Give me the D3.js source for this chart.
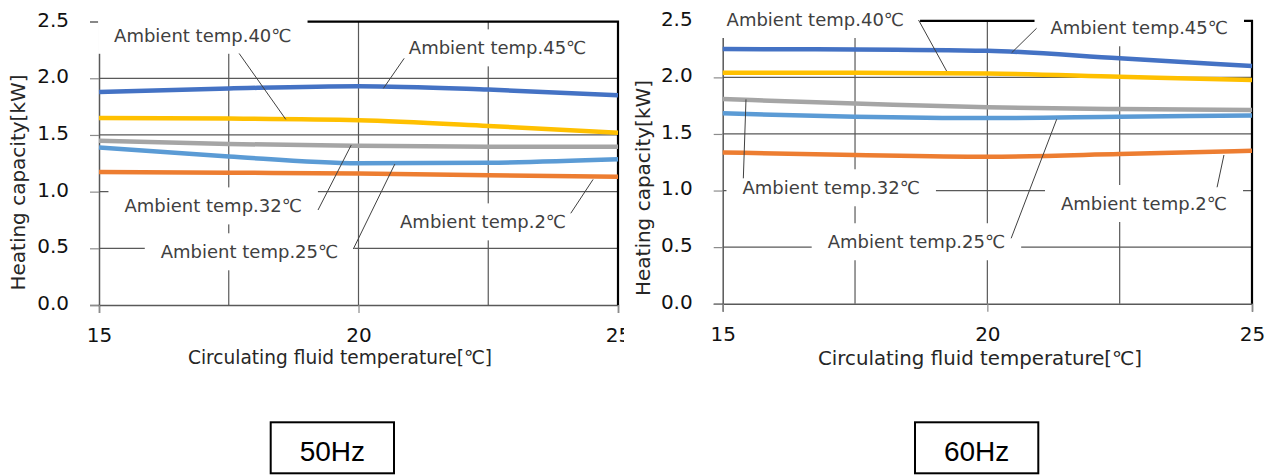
<!DOCTYPE html>
<html><head><meta charset="utf-8">
<script src="https://cdn.jsdelivr.net/npm/d3@7"></script>
<style>html,body{margin:0;padding:0;background:#fff;} svg{display:block}</style>
</head><body><svg id="chart" width="1272" height="475"></svg>
<script>
// ---------- data ----------
const fluidTemps = [15, 17.5, 20, 22.5, 25];
const xTickValues = [15, 20, 25];
const xGridValues = [17.5, 20, 22.5];
const yTickValues = [0, 0.5, 1.0, 1.5, 2.0, 2.5];
const yGridValues = [0.5, 1.0, 1.5, 2.0];
const seriesNames = ["Ambient temp.45℃", "Ambient temp.40℃", "Ambient temp.32℃", "Ambient temp.25℃", "Ambient temp.2℃"];
const seriesColors = ["#4472C4", "#FFC000", "#A5A5A5", "#5B9BD5", "#ED7D31"];

// 50Hz heating capacity [kW]
const hz50_45 = [1.88, 1.91, 1.93, 1.90, 1.85];
const hz50_40 = [1.65, 1.645, 1.63, 1.58, 1.52];
const hz50_32 = [1.45, 1.42, 1.405, 1.397, 1.396];
const hz50_25 = [1.39, 1.31, 1.25, 1.255, 1.285];
const hz50_2  = [1.173, 1.167, 1.161, 1.144, 1.131];
// 60Hz heating capacity [kW]
const hz60_45 = [2.25, 2.247, 2.235, 2.168, 2.10];
const hz60_40 = [2.04, 2.04, 2.035, 2.005, 1.976];
const hz60_32 = [1.808, 1.77, 1.735, 1.72, 1.711];
const hz60_25 = [1.682, 1.652, 1.64, 1.652, 1.664];
const hz60_2  = [1.337, 1.314, 1.299, 1.322, 1.352];

const panelTitles = ["50Hz", "60Hz"];
const xTitle = "Circulating fluid temperature[℃]";
const yTitle = "Heating capacity[kW]";

// label anchors (data coordinates): text centre x, baseline y, leader from (x1,y1) to (x2,y2)
const labels50 = [
  {s: 0, tx: 22.68, ty: 2.211, x1: 20.88, y1: 2.176, x2: 20.48, y2: 1.911},
  {s: 1, tx: 17.00, ty: 2.322, x1: 17.70, y1: 2.219, x2: 18.60, y2: 1.637},
  {s: 2, tx: 17.20, ty: 0.817, x1: 19.22, y1: 0.838, x2: 19.86, y2: 1.411},
  {s: 3, tx: 17.90, ty: 0.412, x1: 19.90, y1: 0.494, x2: 20.70, y2: 1.243},
  {s: 4, tx: 22.40, ty: 0.676, x1: 24.09, y1: 0.809, x2: 24.52, y2: 1.108}
];
const labels60 = [
  {s: 0, tx: 22.87, ty: 2.381, x1: 20.93, y1: 2.434, x2: 20.46, y2: 2.218},
  {s: 1, tx: 16.75, ty: 2.454, x1: 18.70, y1: 2.507, x2: 19.23, y2: 2.056},
  {s: 2, tx: 17.05, ty: 0.967, x1: 15.39, y1: 1.108, x2: 15.44, y2: 1.806},
  {s: 3, tx: 18.66, ty: 0.490, x1: 20.45, y1: 0.578, x2: 21.31, y2: 1.630},
  {s: 4, tx: 22.96, ty: 0.828, x1: 24.34, y1: 1.029, x2: 24.47, y2: 1.314}
];

// ---------- layout ----------
const panels = [
  {series: [hz50_45, hz50_40, hz50_32, hz50_25, hz50_2], labels: labels50, title: panelTitles[0],
   left: 99, right: 618, bottom: 305, top: 21.6, clipX: 0, clipW: 624,
   yTitleX: 25, yTitleY: 182.5, xTitleCx: 340, xTitleY: 364, xTitleLen: 304,
   box: {x: 270.7, y: 422.3, w: 123.3, h: 51}},
  {series: [hz60_45, hz60_40, hz60_32, hz60_25, hz60_2], labels: labels60, title: panelTitles[1],
   left: 722.7, right: 1252, bottom: 303.7, top: 20.8, clipX: 630, clipW: 642,
   yTitleX: 650, yTitleY: 188, xTitleCx: 980, xTitleY: 365, xTitleLen: 324,
   box: {x: 915, y: 422.3, w: 123.3, h: 51}}
];

const svg = d3.select("#chart");
const FONT = "'DejaVu Sans', Verdana, sans-serif";
const GRID = "#595959";

panels.forEach((p, pi) => {
  const clipId = "clip" + pi;
  svg.append("clipPath").attr("id", clipId)
    .append("rect").attr("x", p.clipX).attr("y", 0).attr("width", p.clipW).attr("height", 475);
  const g = svg.append("g").attr("clip-path", `url(#${clipId})`);

  const x = d3.scaleLinear().domain([15, 25]).range([p.left, p.right]);
  const y = d3.scaleLinear().domain([0, 2.5]).range([p.bottom, p.top]);

  // gridlines
  g.append("g").selectAll("line").data(yGridValues).join("line")
    .attr("x1", p.left).attr("x2", p.right).attr("y1", d => y(d)).attr("y2", d => y(d))
    .attr("stroke", GRID).attr("stroke-width", 1.2);
  g.append("g").selectAll("line").data(xGridValues).join("line")
    .attr("x1", d => x(d)).attr("x2", d => x(d)).attr("y1", p.top).attr("y2", p.bottom)
    .attr("stroke", GRID).attr("stroke-width", 1.2);

  // y axis
  const yAxis = d3.axisLeft(y).tickValues(yTickValues).tickFormat(d3.format(".1f")).tickSize(9).tickPadding(21);
  const ya = g.append("g").attr("transform", `translate(${p.left},0)`).call(yAxis);
  ya.select(".domain").attr("stroke", GRID).attr("stroke-width", 1.5);
  ya.selectAll(".tick line").attr("stroke", "#8c8c8c").attr("stroke-width", 1.2);
  ya.selectAll(".tick text").attr("font-family", FONT).attr("font-size", 20).attr("fill", "#111")
    .attr("dy", "0.22em");

  // x axis
  const xAxis = d3.axisBottom(x).tickValues(xTickValues).tickFormat(d3.format("d")).tickSize(8).tickPadding(0);
  const xa = g.append("g").attr("transform", `translate(0,${p.bottom})`).call(xAxis);
  xa.select(".domain").attr("stroke", GRID).attr("stroke-width", 1.5);
  xa.selectAll(".tick line").attr("stroke", "#8c8c8c").attr("stroke-width", 1.2);
  xa.selectAll(".tick text").attr("font-family", FONT).attr("font-size", 20).attr("fill", "#111")
    .attr("y", 37).attr("dy", 0);

  // top and right border
  g.append("path")
    .attr("d", `M${x(15)},${y(2.5)}H${x(25)}V${y(0)}`)
    .attr("fill", "none").attr("stroke", "#000").attr("stroke-width", 2.2);

  // series lines
  const line = d3.line().x((d, i) => x(fluidTemps[i])).y(d => y(d)).curve(d3.curveMonotoneX);
  g.append("g").selectAll("path").data(p.series).join("path")
    .attr("d", d => line(d))
    .attr("fill", "none")
    .attr("stroke", (d, i) => seriesColors[i])
    .attr("stroke-width", 4.5)
    .attr("stroke-linecap", "butt");

  // labels with white background
  const lg = g.append("g");
  p.labels.forEach(l => {
    const t = lg.append("text")
      .attr("x", x(l.tx)).attr("y", y(l.ty))
      .attr("text-anchor", "middle")
      .attr("font-family", FONT).attr("font-size", 18).attr("fill", "#404040")
      .text(seriesNames[l.s]);
    const bb = t.node().getBBox();
    lg.insert("rect", "text")
      .attr("x", bb.x - 16).attr("y", bb.y - 8)
      .attr("width", bb.width + 32).attr("height", bb.height + 16)
      .attr("fill", "#fff");
    lg.append("line")
      .attr("x1", x(l.x1)).attr("y1", y(l.y1)).attr("x2", x(l.x2)).attr("y2", y(l.y2))
      .attr("stroke", "#404040").attr("stroke-width", 1);
  });

  // axis titles
  g.append("text")
    .attr("x", p.xTitleCx).attr("y", p.xTitleY)
    .attr("text-anchor", "middle")
    .attr("font-family", FONT).attr("font-size", 19).attr("fill", "#262626")
    .attr("textLength", p.xTitleLen).attr("lengthAdjust", "spacingAndGlyphs")
    .text(xTitle);
  g.append("text")
    .attr("transform", `translate(${p.yTitleX},${p.yTitleY}) rotate(-90)`)
    .attr("text-anchor", "middle")
    .attr("font-family", FONT).attr("font-size", 20).attr("fill", "#262626")
    .text(yTitle);

  // frequency box
  svg.append("rect")
    .attr("x", p.box.x).attr("y", p.box.y).attr("width", p.box.w).attr("height", p.box.h)
    .attr("fill", "#fff").attr("stroke", "#000").attr("stroke-width", 2);
  svg.append("text")
    .attr("x", p.box.x + p.box.w / 2).attr("y", 461)
    .attr("text-anchor", "middle")
    .attr("font-family", "'Liberation Sans', Arial, sans-serif").attr("font-size", 28).attr("fill", "#000")
    .text(p.title);
});
</script>
</body></html>
